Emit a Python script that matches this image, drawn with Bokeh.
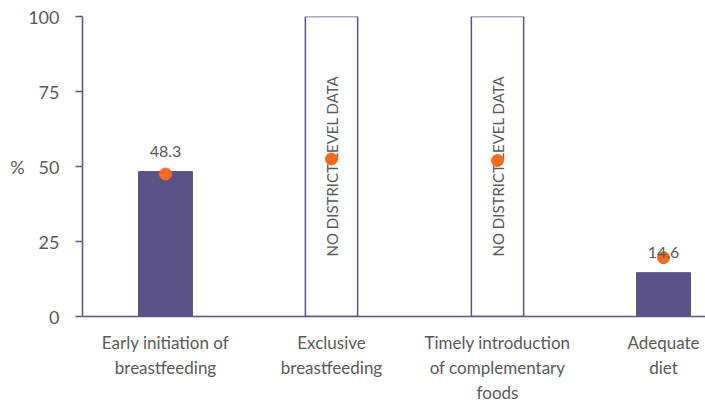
from bokeh.plotting import figure
from bokeh.models import FixedTicker, Range1d
from bokeh.core.properties import value
from bokeh.embed import file_html
from bokeh.resources import INLINE

categories = ["Early initiation of\nbreastfeeding", "Exclusive\nbreastfeeding",
              "Timely introduction\nof complementary\nfoods", "Adequate\ndiet"]
district = [48.3, None, None, 14.6]
state = [47.5, 52.5, 52.0, 19.6]
no_data_text = "NO DISTRICT LEVEL DATA"
y_ticks = [0, 25, 50, 75, 100]

PURPLE = "#5B5287"
ORANGE = "#F26B21"
GRAY = "#595959"
FONT = "Lato"
NB = "\u00a0"

xs = list(range(len(categories)))

p = figure(width=705, height=405, output_backend="svg", toolbar_location=None,
           x_range=Range1d(-0.5, 3.253), y_range=Range1d(0, 100),
           min_border_left=82, min_border_right=0, min_border_top=16, min_border_bottom=88)
p.outline_line_color = None
p.grid.grid_line_color = None
p.background_fill_color = "white"

bx = [x for x, v in zip(xs, district) if v is not None]
bv = [v for v in district if v is not None]
p.vbar(x=bx, top=bv, width=0.325, fill_color=PURPLE, line_color=PURPLE)

nx = [x for x, v in zip(xs, district) if v is None]
p.vbar(x=nx, top=[100] * len(nx), width=0.315, fill_color="white", line_color=PURPLE, line_width=1.5)

p.text(x=nx, y=[50.2] * len(nx), text=[no_data_text] * len(nx), angle=1.5708,
       text_align="center", text_baseline="middle", text_color=GRAY,
       text_font=value(FONT), text_font_size="15px")

p.scatter(x=xs, y=state, size=12, fill_color=ORANGE, line_color=ORANGE)

p.text(x=bx, y=bv, text=[f"{v:.1f}" for v in bv], y_offset=-20,
       text_align="center", text_baseline="middle", text_color=GRAY,
       text_font=value(FONT), text_font_size="16px")

p.yaxis.ticker = FixedTicker(ticks=y_ticks)
p.yaxis.major_label_overrides = {50: "%" + NB * 3 + "50"}
p.yaxis.axis_line_color = PURPLE
p.yaxis.axis_line_width = 1.5
p.yaxis.major_tick_line_color = PURPLE
p.yaxis.major_tick_line_width = 1.5
p.yaxis.major_tick_out = 7
p.yaxis.major_tick_in = 0
p.yaxis.minor_tick_line_color = None
p.yaxis.major_label_text_font = FONT
p.yaxis.major_label_text_font_size = "18px"
p.yaxis.major_label_text_color = GRAY
p.yaxis.major_label_standoff = 16

p.xaxis.ticker = FixedTicker(ticks=xs)
p.xaxis.major_label_overrides = {i: c for i, c in enumerate(categories)}
p.xaxis.axis_line_color = PURPLE
p.xaxis.axis_line_width = 1.5
p.xaxis.major_tick_line_color = None
p.xaxis.minor_tick_line_color = None
p.xaxis.major_label_text_font = FONT
p.xaxis.major_label_text_font_size = "17px"
p.xaxis.major_label_text_color = GRAY
p.xaxis.major_label_standoff = 9

open("out.html", "w").write(file_html(p, INLINE))
